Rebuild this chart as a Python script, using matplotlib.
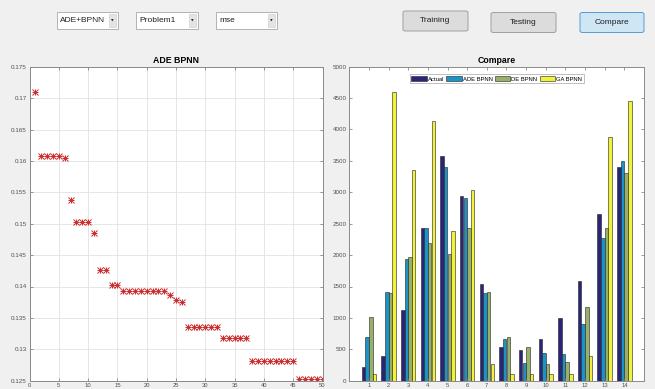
import numpy as np
import matplotlib
matplotlib.use("Agg")
import matplotlib.pyplot as plt
from matplotlib.patches import Rectangle, FancyBboxPatch

plt.rcParams['font.family'] = ['Liberation Sans', 'DejaVu Sans']

W, H = 655, 389

# best fitness (mse) per iteration
iterations = np.arange(1, 51)
mse = [0.1709, 0.1608, 0.1608, 0.1608, 0.1608, 0.1605, 0.1538, 0.1503, 0.1503, 0.1503,
       0.1485, 0.1426, 0.1426, 0.1403, 0.1403, 0.1393, 0.1393, 0.1393, 0.1393, 0.1393,
       0.1393, 0.1393, 0.1393, 0.1387, 0.1378, 0.1375, 0.1336, 0.1336, 0.1336, 0.1336,
       0.1336, 0.1336, 0.1318, 0.1318, 0.1318, 0.1318, 0.1318, 0.1282, 0.1282, 0.1282,
       0.1282, 0.1282, 0.1282, 0.1282, 0.1282, 0.1252, 0.1252, 0.1252, 0.1252, 0.1252]

# test samples, actual vs predicted
samples = np.arange(1, 15)
actual = [225, 400, 1130, 2430, 3585, 2945, 1540, 530, 490, 660, 1005, 1595, 2660, 3410]
ade_bpnn = [700, 1410, 1930, 2425, 3400, 2910, 1390, 670, 275, 445, 425, 900, 2265, 3505]
de_bpnn = [1020, 1400, 1970, 2200, 2020, 2425, 1420, 690, 540, 260, 300, 1175, 2425, 3310]
ga_bpnn = [100, 4605, 3350, 4130, 2390, 3030, 265, 105, 100, 100, 100, 400, 3875, 4455]

series = [("Actual", actual, "#2b2577"),
          ("ADE BPNN", ade_bpnn, "#1a93c6"),
          ("DE BPNN", de_bpnn, "#98b06a"),
          ("GA BPNN", ga_bpnn, "#f2f23a")]


def box(x0, y0, x1, y1):
    # pixel box (top-left origin) -> figure fraction rect
    return [x0 / W, 1 - y1 / H, (x1 - x0) / W, (y1 - y0) / H]


fig = plt.figure(figsize=(W / 100, H / 100), dpi=100, facecolor="#f0f0f0")


def style_axes(ax):
    ax.set_facecolor("white")
    for s in ax.spines.values():
        s.set_color("#8a8a8a")
        s.set_linewidth(0.7)
    ax.tick_params(direction="in", length=2.5, width=0.5, color="#707070",
                   labelsize=4.5, labelcolor="#505050", pad=2,
                   top=True, right=True)
    ax.tick_params(axis="x", pad=1.5, labelsize=4.2)


# convergence plot
ax1 = fig.add_axes(box(29.5, 66.7, 322.5, 380.7))
style_axes(ax1)
# MATLAB-style asterisk: plus and cross drawn on top of each other
for mk in ("+", "x"):
    ax1.plot(iterations, mse, linestyle="none", marker=mk, color="#cc2b2b",
             markersize=4.2, markeredgewidth=0.7)
ax1.set_xlim(0, 50)
ax1.set_ylim(0.125, 0.175)
ax1.set_xticks(np.arange(0, 51, 5))
ax1.set_yticks(np.arange(0.125, 0.1751, 0.005))
ax1.set_yticklabels(["0.125", "0.13", "0.135", "0.14", "0.145", "0.15",
                     "0.155", "0.16", "0.165", "0.17", "0.175"])
ax1.grid(True, color="#e2e2e2", linewidth=0.6)
ax1.set_axisbelow(True)
ax1.set_title("ADE BPNN", fontsize=6.3, fontweight="bold", pad=3)

# grouped bar comparison
ax2 = fig.add_axes(box(349.3, 66.7, 644, 380.7))
style_axes(ax2)
bw = 0.18
for i, (name, vals, col) in enumerate(series):
    ax2.bar(samples + (i - 1.5) * 0.185, vals, width=bw, color=col,
            edgecolor="#202020", linewidth=0.4, label=name)
ax2.set_xlim(0, 15)
ax2.set_ylim(0, 5000)
ax2.set_xticks(samples)
ax2.set_yticks(np.arange(0, 5001, 500))
ax2.set_title("Compare", fontsize=6.3, fontweight="bold", pad=3)
leg = ax2.legend(loc="upper center", ncol=4, fontsize=4.2, frameon=True,
                 fancybox=False, edgecolor="#909090", borderpad=0.3,
                 handlelength=2.6, handleheight=0.9, handletextpad=0.2,
                 columnspacing=0.4, bbox_to_anchor=(0.5, 0.985))
leg.get_frame().set_linewidth(0.5)

# popup menus
for x0, x1, label in [(57, 118, "ADE+BPNN"), (136, 198, "Problem1"), (216, 277, "mse")]:
    fig.patches.append(Rectangle((x0 / W, 1 - 29 / H), (x1 - x0) / W, 17 / H,
                                 transform=fig.transFigure, facecolor="white",
                                 edgecolor="#a8a8a8", linewidth=0.6))
    fig.patches.append(Rectangle(((x1 - 9) / W, 1 - 27 / H), 7 / W, 13 / H,
                                 transform=fig.transFigure, facecolor="#e4e4e4",
                                 edgecolor="#c8c8c8", linewidth=0.4))
    fig.text((x1 - 5.5) / W, 1 - 20.5 / H, "\u25bc", fontsize=2.5, color="#202020",
             ha="center", va="center", family="DejaVu Sans")
    fig.text((x0 + 3) / W, 1 - 20.5 / H, label, fontsize=6, color="#202020",
             ha="left", va="center")

# push buttons
buttons = [(403, 468, 11, 31, "Training", "#dcdcdc", "#a0a0a0"),
           (491, 556, 12.5, 32.5, "Testing", "#dcdcdc", "#a0a0a0"),
           (580, 644, 12.5, 32.5, "Compare", "#cfe6f5", "#5a9bd0")]
for x0, x1, y0, y1, label, face, edge in buttons:
    fig.patches.append(FancyBboxPatch((x0 / W, 1 - y1 / H), (x1 - x0) / W, (y1 - y0) / H,
                                      boxstyle="round,pad=0,rounding_size=0.004",
                                      transform=fig.transFigure, facecolor=face,
                                      edgecolor=edge, linewidth=0.7))
    fig.text((x0 + x1) / 2 / W, 1 - (y0 + y1) / 2 / H, label, fontsize=6,
             color="#202020", ha="center", va="center")

fig.savefig("out.png", dpi=100, facecolor=fig.get_facecolor())
